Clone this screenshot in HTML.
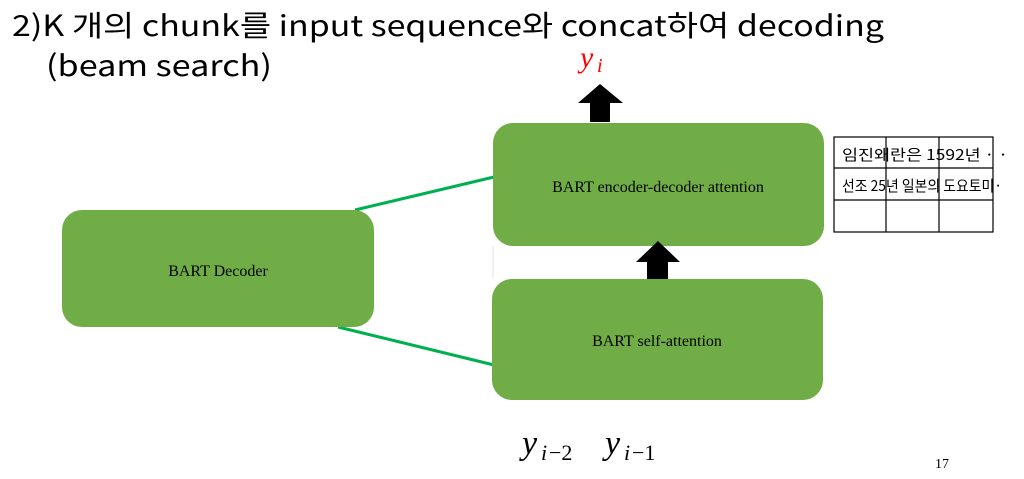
<!DOCTYPE html>
<html><head><meta charset="utf-8"><style>
html,body{margin:0;padding:0;background:#fff;}
svg{display:block}
</style></head><body>
<svg width="1024" height="479" viewBox="0 0 1024 479" xmlns="http://www.w3.org/2000/svg">
<text x="12" y="36" font-family="'Noto Sans CJK KR','Liberation Sans',sans-serif" font-size="29" fill="#000" textLength="872" lengthAdjust="spacingAndGlyphs">2)K 개의 chunk를 input sequence와 concat하여 decoding</text>
<text x="46" y="76" font-family="'Noto Sans CJK KR','Liberation Sans',sans-serif" font-size="29" fill="#000" textLength="226" lengthAdjust="spacingAndGlyphs">(beam search)</text>

<line x1="355" y1="210" x2="494" y2="177" stroke="#00b050" stroke-width="3"/>
<line x1="338" y1="327" x2="494" y2="365" stroke="#00b050" stroke-width="3"/>
<line x1="493" y1="246" x2="493" y2="279" stroke="#e6e6e6" stroke-width="1"/>

<rect x="62" y="210" width="312" height="117" rx="20" fill="#70ad47"/>
<rect x="493" y="123" width="331" height="123" rx="20" fill="#70ad47"/>
<rect x="492" y="279" width="331" height="121" rx="20" fill="#70ad47"/>

<text x="218" y="276" text-anchor="middle" font-family="'Liberation Serif',serif" font-size="16">BART Decoder</text>
<text x="658" y="192" text-anchor="middle" font-family="'Liberation Serif',serif" font-size="16">BART encoder-decoder attention</text>
<text x="657" y="346" text-anchor="middle" font-family="'Liberation Serif',serif" font-size="16">BART self-attention</text>

<polygon points="600,84 623,103 610,103 610,122 590,122 590,103 578,103" fill="#000"/>
<polygon points="658,241 680,262 668,262 668,279 647,279 647,262 636,262" fill="#000"/>

<text x="580" y="67" font-family="'Liberation Serif',serif" font-style="italic" font-size="30" fill="#ff0000">y</text>
<text x="597" y="72" font-family="'Liberation Serif',serif" font-style="italic" font-size="20" fill="#ff0000">i</text>

<g stroke="#000" stroke-width="1.2" fill="none">
<rect x="834" y="137" width="159" height="95"/>
<line x1="834" y1="168" x2="993" y2="168"/>
<line x1="834" y1="200" x2="993" y2="200"/>
<line x1="886" y1="137" x2="886" y2="232"/>
<line x1="939" y1="137" x2="939" y2="232"/>
</g>
<text x="842" y="160" font-family="'Noto Sans CJK KR',sans-serif" font-size="15" textLength="166" lengthAdjust="spacingAndGlyphs">임진왜란은 1592년 · ·</text>
<text x="842" y="191" font-family="'Noto Sans CJK KR',sans-serif" font-size="15" textLength="160" lengthAdjust="spacingAndGlyphs">선조 25년 일본의 도요토미·</text>

<g font-family="'Liberation Serif',serif" font-style="italic">
<text x="522" y="454" font-size="34">y</text>
<text x="541" y="460" font-size="22">i</text>
<text x="605" y="454" font-size="34">y</text>
<text x="624" y="460" font-size="22">i</text>
</g>
<g font-family="'Liberation Serif',serif" font-size="22">
<text x="549" y="460">−2</text>
<text x="632" y="460">−1</text>
</g>

<text x="935" y="468" font-family="'Liberation Serif',serif" font-size="14">17</text>
</svg>
</body></html>
